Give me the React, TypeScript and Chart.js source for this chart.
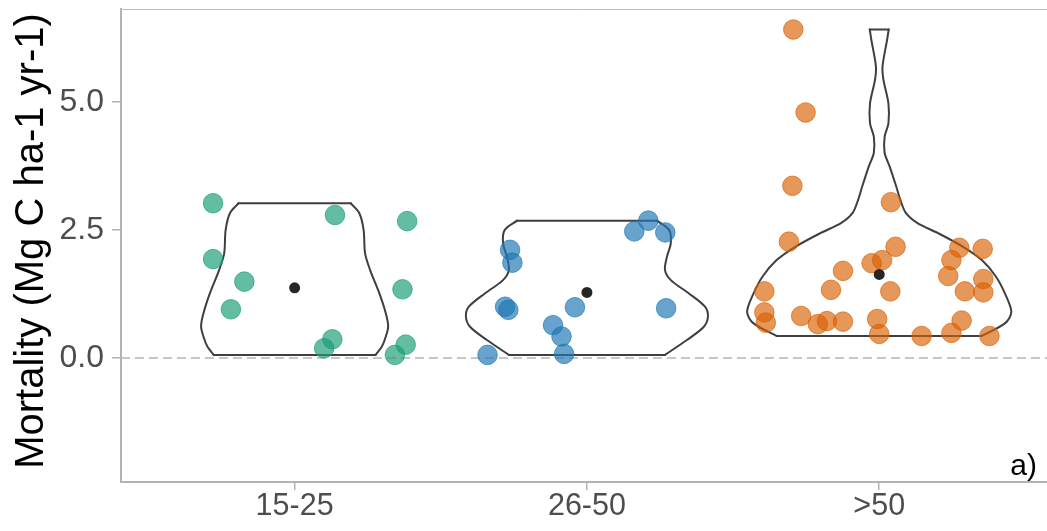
import React, { useEffect, useRef } from 'react';
import { Chart, registerables } from 'chart.js';

Chart.register(...registerables);

const FONT = '"Liberation Sans", Arial, sans-serif';

// Categories and tick labels
const categories = ['15-25', '26-50', '>50'];
const yTickValues = [0, 2.5, 5.0];
const yTitle = 'Mortality (Mg C ha-1 yr-1)';
const panelLabel = 'a)';

// Jittered observations (x = jittered group position, y = mortality)
const group1X = [0.721, 1.138, 1.385, 0.721, 0.828, 1.369, 0.782, 1.129, 1.101, 1.380, 1.343];
const group1Y = [3.02, 2.79, 2.67, 1.93, 1.49, 1.34, 0.95, 0.365, 0.19, 0.26, 0.06];

const group2X = [2.210, 2.162, 2.268, 1.737, 1.745, 1.720, 1.731, 1.959, 2.271, 1.884, 1.913, 1.922, 1.660];
const group2Y = [2.68, 2.47, 2.45, 2.11, 1.86, 1.00, 0.94, 0.99, 0.97, 0.64, 0.42, 0.08, 0.06];

const group3X = [2.706, 2.748, 2.703, 3.040, 2.691, 3.056, 3.274, 3.354, 3.010, 2.974, 3.247, 2.876, 3.236, 3.356,
  2.607, 2.835, 3.038, 3.293, 3.356, 2.607, 2.612, 2.733, 2.790, 2.821, 2.876, 2.993, 3.000, 3.145, 3.247, 3.282, 3.377];
const group3Y = [6.41, 4.79, 3.36, 3.04, 2.27, 2.17, 2.15, 2.13, 1.91, 1.85, 1.91, 1.70, 1.60, 1.54,
  1.30, 1.33, 1.30, 1.30, 1.28, 0.89, 0.69, 0.82, 0.66, 0.72, 0.71, 0.76, 0.47, 0.43, 0.49, 0.73, 0.43];

// Group means
const meanY = [1.37, 1.28, 1.63];

// Violin profiles: y levels (top to bottom) and scaled density half-widths
const violin1Y = [3.02, 2.83, 2.50, 2.04, 1.72, 1.26, 0.87, 0.61, 0.35, 0.22, 0.06];
const violin1W = [0.192, 0.221, 0.236, 0.241, 0.258, 0.290, 0.312, 0.320, 0.308, 0.298, 0.277];

const violin2Y = [2.68, 2.50, 2.24, 1.98, 1.72, 1.52, 1.26, 1.00, 0.81, 0.61, 0.35, 0.06];
const violin2W = [0.239, 0.281, 0.287, 0.274, 0.267, 0.287, 0.349, 0.404, 0.414, 0.400, 0.342, 0.267];

const violin3Y = [6.41, 6.21, 5.69, 5.43, 4.97, 4.58, 4.32, 4.00, 3.74, 3.35, 3.09, 2.83, 2.63, 2.44, 2.17, 1.91, 1.59, 1.26, 0.90, 0.68, 0.43];
const violin3W = [0.0325, 0.027, 0.0113, 0.0144, 0.0315, 0.0315, 0.0185, 0.0185, 0.0356, 0.058, 0.072, 0.091, 0.131, 0.200, 0.287, 0.351, 0.399, 0.430, 0.452, 0.431, 0.351];

const groupColors = ['rgba(27,158,119,0.68)', 'rgba(31,120,180,0.68)', 'rgba(217,95,2,0.65)'];

function violinSide(center: number, ys: number[], ws: number[], sign: number) {
  return ys.map((y, i) => ({ x: center + sign * ws[i], y }));
}

function violinEdges(center: number, ys: number[], ws: number[]) {
  const n = ys.length - 1;
  return [
    { x: center - ws[0], y: ys[0] },
    { x: center + ws[0], y: ys[0] },
    { x: center, y: null },
    { x: center - ws[n], y: ys[n] },
    { x: center + ws[n], y: ys[n] },
  ];
}

function zip(xs: number[], ys: number[]) {
  return xs.map((x, i) => ({ x, y: ys[i] }));
}

const decorPlugin = {
  id: 'decor',
  beforeDatasetsDraw(chart: any) {
    const { ctx, chartArea, scales } = chart;
    const y0 = scales.y.getPixelForValue(0);
    ctx.save();
    ctx.strokeStyle = '#b5b5b5';
    ctx.lineWidth = 1.5;
    ctx.setLineDash([9, 5]);
    ctx.beginPath();
    ctx.moveTo(chartArea.left, y0);
    ctx.lineTo(chartArea.right, y0);
    ctx.stroke();
    ctx.setLineDash([]);
    ctx.strokeStyle = '#bdbdbd';
    ctx.lineWidth = 1;
    ctx.beginPath();
    ctx.moveTo(chartArea.left - 1, chartArea.top + 0.5);
    ctx.lineTo(chartArea.right, chartArea.top + 0.5);
    ctx.stroke();
    ctx.restore();
  },
  afterDraw(chart: any) {
    const { ctx, chartArea } = chart;
    ctx.save();
    ctx.fillStyle = '#000000';
    ctx.font = `40px ${FONT}`;
    ctx.textAlign = 'center';
    ctx.textBaseline = 'middle';
    ctx.translate(32, 241);
    ctx.rotate(-Math.PI / 2);
    ctx.fillText(yTitle, 0, 0);
    ctx.restore();

    ctx.save();
    ctx.fillStyle = '#000000';
    ctx.font = `30px ${FONT}`;
    ctx.textAlign = 'right';
    ctx.textBaseline = 'alphabetic';
    ctx.fillText(panelLabel, chartArea.right - 10, chartArea.bottom - 7);
    ctx.restore();
  },
};

function zeroPadding(s: any) {
  s.paddingTop = 0;
  s.paddingBottom = 0;
  s.paddingLeft = 0;
  s.paddingRight = 0;
}

export default function App() {
  const ref = useRef<HTMLCanvasElement>(null);

  useEffect(() => {
    if (!ref.current) return;
    const profiles = [
      { c: 1, ys: violin1Y, ws: violin1W },
      { c: 2, ys: violin2Y, ws: violin2W },
      { c: 3, ys: violin3Y, ws: violin3W },
    ];
    const groups = [zip(group1X, group1Y), zip(group2X, group2Y), zip(group3X, group3Y)];

    const datasets: any[] = [];
    const outline = {
      type: 'line',
      borderColor: '#3f3f3f',
      borderWidth: 2,
      pointRadius: 0,
      fill: false,
      order: 3,
      borderJoinStyle: 'round',
      borderCapStyle: 'round',
    };
    profiles.forEach((p) => {
      datasets.push({ ...outline, data: violinSide(p.c, p.ys, p.ws, 1), tension: 0.3 });
      datasets.push({ ...outline, data: violinSide(p.c, p.ys, p.ws, -1), tension: 0.3 });
      datasets.push({ ...outline, data: violinEdges(p.c, p.ys, p.ws), tension: 0, spanGaps: false });
    });
    groups.forEach((g, i) => {
      datasets.push({
        type: 'scatter',
        data: g,
        backgroundColor: groupColors[i],
        borderColor: groupColors[i],
        borderWidth: 1,
        pointRadius: 9.8,
        order: 2,
      });
    });
    datasets.push({
      type: 'scatter',
      data: meanY.map((y, i) => ({ x: i + 1, y })),
      backgroundColor: '#262626',
      borderColor: '#262626',
      borderWidth: 0,
      pointRadius: 5.5,
      order: 1,
    });

    const chart = new Chart(ref.current, {
      type: 'scatter',
      data: { datasets },
      plugins: [decorPlugin],
      options: {
        animation: false,
        responsive: false,
        devicePixelRatio: 1,
        layout: { autoPadding: false, padding: { top: 9, right: 0, left: 0, bottom: 0 } },
        plugins: { legend: { display: false }, tooltip: { enabled: false } },
        scales: {
          x: {
            type: 'linear',
            min: 0.406,
            max: 3.574,
            afterBuildTicks: (s: any) => {
              s.ticks = categories.map((_, i) => ({ value: i + 1 }));
            },
            afterFit: (s: any) => {
              s.height = 49;
              zeroPadding(s);
            },
            ticks: {
              callback: (v: any) => categories[Math.round(v) - 1],
              font: { family: FONT, size: 30.5, lineHeight: 1 },
              color: '#4d4d4d',
              padding: 1,
              autoSkip: false,
              maxRotation: 0,
            },
            grid: { drawOnChartArea: false, drawTicks: true, tickLength: 8, color: '#b3b3b3', lineWidth: 1.5 },
            border: { display: true, color: '#b3b3b3', width: 2 },
          },
          y: {
            type: 'linear',
            min: -2.42,
            max: 6.81,
            afterBuildTicks: (s: any) => {
              s.ticks = yTickValues.map((v) => ({ value: v }));
            },
            afterFit: (s: any) => {
              s.width = 121;
              zeroPadding(s);
            },
            ticks: {
              callback: (v: any) => Number(v).toFixed(1),
              font: { family: FONT, size: 32, lineHeight: 1 },
              color: '#4d4d4d',
              padding: 8,
            },
            grid: { drawOnChartArea: false, drawTicks: true, tickLength: 9, color: '#b3b3b3', lineWidth: 1.5 },
            border: { display: true, color: '#b3b3b3', width: 2 },
          },
        },
      } as any,
    });
    return () => chart.destroy();
  }, []);

  return (
    <div style={{ position: 'absolute', left: 0, top: 0, width: 1047, height: 531, background: '#ffffff' }}>
      <canvas ref={ref} width={1047} height={531} style={{ display: 'block' }} />
    </div>
  );
}
